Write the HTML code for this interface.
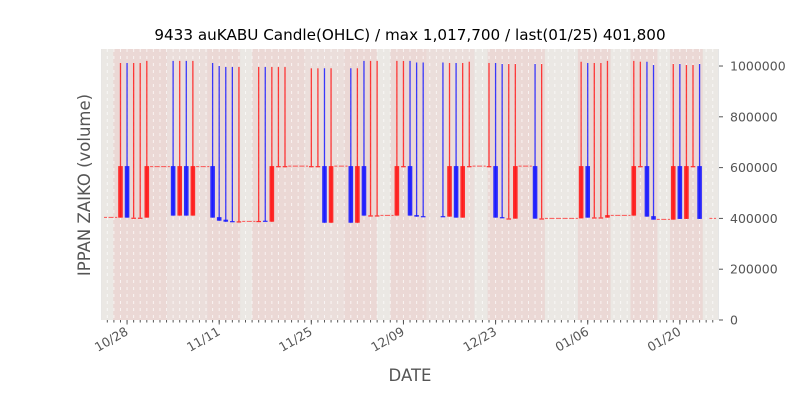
<!DOCTYPE html>
<html><head><meta charset="utf-8"><style>
body{margin:0;background:#fff;}
svg text{font-family:"DejaVu Sans","Liberation Sans",sans-serif;}
</style></head><body>
<svg id="chart" width="800" height="400" viewBox="0 0 800 400" xmlns="http://www.w3.org/2000/svg">
<rect x="0" y="0" width="800" height="400" fill="#ffffff"/>
<text x="410" y="40" font-size="15.2" text-anchor="middle" fill="#000">9433 auKABU Candle(OHLC) / max 1,017,700 / last(01/25) 401,800</text>
<g id="plot"></g>
<text x="410" y="381" font-size="16.5" text-anchor="middle" fill="#555">DATE</text>
<text transform="translate(90,185) rotate(-90)" font-size="16.5" text-anchor="middle" fill="#555">IPPAN ZAIKO (volume)</text>
</svg>
<script>
// data (values in thousands, day index from 10/25)
const candleDays = [2,3,4,5,6,10,11,12,13,16,17,18,19,20,23,24,25,26,27,31,32,33,34,37,38,39,40,41,44,45,46,47,48,51,52,53,54,55,58,59,60,61,62,65,66,72,73,74,75,76,80,81,82,83,86,87,88,89,90];
const opens  = [403,606,403,403,403,606,411,606,411,606,405,395,389.5,388.5,390,391,387,606,606,606,606,606,383,606,383,606,412,412,411,606,606,413,409,409,407,606,403,606,606,606,405,400,399,606,400,400,606,404,404,403,411,606,606,409,395,606,398,606,606];
const highs  = [1012,1012,1012,1012,1020,1020,1020,1020,1020,1012,1000,996,996,996,996,996,996,996,996,991,991,991,991,991,991,1020,1020,1020,1020,1020,1020,1014,1014,1014,1012,1012,1012,1017,1012,1012,1008,1008,1008,1008,1008,1017,1012,1012,1012,1020,1020,1017,1017,1004,1008,1008,1004,1004,1008];
const lows   = [403,403,403,403,403,411,411,411,411,403,391,387,388.5,388.5,390,390,387,606,606,606,606,383,383,383,383,411,412,412,411,606,411,407,408,408,407,403,403,606,606,403,401,400,399,399,400,400,403,404,404,403,411,606,407,395,395,398,398,606,398];
const closes = [606,403,403,403,606,411,606,411,606,403,391,387,388.5,388.5,390,390,606,606,606,606,606,383,606,383,606,411,412,412,606,606,411,407,408,408,606,403,606,606,606,403,401,400,606,399,400,606,403,404,404,413,606,606,407,395,606,398,606,606,398];
const flatDays = [0,1,7,8,9,14,15,21,22,28,29,30,35,36,42,43,56,57,63,64,67,68,69,70,71,77,78,79,84,85,92];
const flatVals = [404,404,604,604,604,604,604,388.5,388.5,606,606,606,606,606,412,412,606,606,606,606,400,400,400,400,400,412,412,412,396,396,400];
const yTicks = [0,200000,400000,600000,800000,1000000];
const yTickLabels = ["0","200000","400000","600000","800000","1000000"];
const xTickDays = [3,17,31,45,59,73,87];
const xTickLabels = ["10/28","11/11","11/25","12/09","12/23","01/06","01/20"];
const bandStarts = [-0.9,0.9,9.1,15.2,20.2,22,30,36,41,43,48.5,55.8,57.8,66.5,71.5,76.5,79.5,83.6,85.5,90.5,92.8];
const bandEnds   = [0.9,9.1,15.2,20.2,22,30,36,41,43,48.5,55.8,57.8,66.5,71.5,76.5,79.5,83.6,85.5,90.5,92.8,93];
const bandKinds  = [0,1,2,1,0,1,2,1,0,1,2,0,1,0,1,0,1,0,1,0,3];

const L=101,R=719,T=49,B=320;
const X0=-0.96, X1=92.95;
const xs = d => L + (d - X0) / (X1 - X0) * (R - L);
const ys = v => B - v / 1067000 * (B - T);
const NS="http://www.w3.org/2000/svg";
const plot=document.getElementById('plot');
const svg=document.getElementById('chart');
function mk(tag, attrs, parent){const e=document.createElementNS(NS,tag);for(const k in attrs)e.setAttribute(k,attrs[k]);(parent||plot).appendChild(e);return e;}

let bg=mk('rect',{x:L,y:T,width:R-L,height:B-T,fill:'#e5e5e5'});


const bandColors=['#ebe8e4','#ebd8d5','#ebdedb','#e5e5e5'];
for(let i=0;i<bandStarts.length;i++){
  const x0=Math.max(L,xs(bandStarts[i])), x1=Math.min(R,xs(bandEnds[i]));
  const b=mk('rect',{x:x0,y:T,width:Math.max(0,x1-x0),height:B-T,fill:bandColors[bandKinds[i]]});
  
  
}
for(let d=0; d<=92; d++){
  const g=mk('line',{x1:xs(d),x2:xs(d),y1:T,y2:B,stroke:'#ffffff','stroke-width':1,'stroke-dasharray':'3,4',opacity:0.7});
  
  
}
for(let i=0;i<flatDays.length;i++){
  const x=xs(flatDays[i]), y=ys(flatVals[i]*1000);
  const f=mk('line',{x1:x-3.3,x2:x+3.3,y1:y,y2:y,stroke:'#ff3030','stroke-width':1,'stroke-dasharray':'3,1.5','opacity':0.8});
  
  
}
for(let i=0;i<candleDays.length;i++){
  const x=xs(candleDays[i]);
  const o=opens[i]*1000,h=highs[i]*1000,l=lows[i]*1000,c=closes[i]*1000;
  const up=c>=o;
  const col=up?'#ff1a1a':'#1a1aff';
  const w=mk('line',{x1:x,x2:x,y1:ys(h),y2:ys(l),stroke:col,'stroke-width':1.3,opacity:0.85});
  
  
  const top=ys(Math.max(o,c)), bot=ys(Math.min(o,c));
  const r=mk('rect',{x:x-2.3,y:top,width:4.6,height:Math.max(1.2,bot-top),fill:col,opacity:0.9});
  
  
}
// y axis (right)
for(let i=0;i<yTicks.length;i++){
  const y=ys(yTicks[i]);
  const t=mk('line',{x1:R,x2:R+4,y1:y,y2:y,stroke:'#555','stroke-width':1},svg);
  
  
  const tx=mk('text',{x:R+11,y:y+4.5,'font-size':12.5,fill:'#555'},svg);
  tx.textContent=yTickLabels[i];
  
  
}
// x minor ticks
for(let d=0; d<=92; d++){
  const t=mk('line',{x1:xs(d),x2:xs(d),y1:B,y2:B+2.5,stroke:'#555','stroke-width':1},svg);
  
  
}
for(let i=0;i<xTickDays.length;i++){
  const x=xs(xTickDays[i]);
  const t=mk('line',{x1:x,x2:x,y1:B,y2:B+4.5,stroke:'#555','stroke-width':1},svg);
  
  
  const tx=mk('text',{transform:`translate(${x+2},${B+14}) rotate(-30)`,'font-size':12.5,fill:'#555','text-anchor':'end'},svg);
  tx.textContent=xTickLabels[i];
  
  
}
</script>
</body></html>
